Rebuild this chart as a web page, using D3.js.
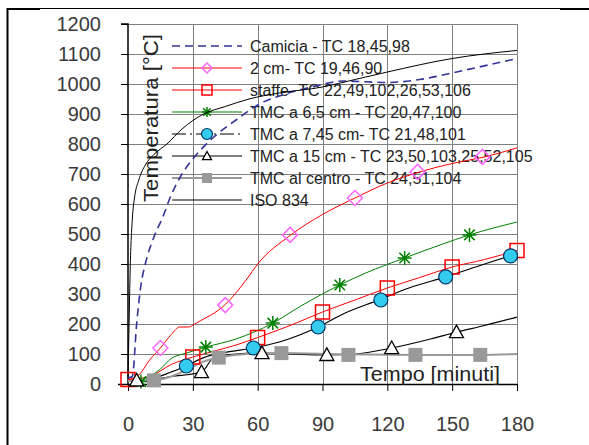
<!DOCTYPE html>
<html><head><meta charset="utf-8">
<script src="https://cdn.jsdelivr.net/npm/d3@7"></script>
<style>body{margin:0;background:#fff}svg{display:block}text{font-family:"Liberation Sans",Arial,sans-serif}</style>
</head><body>
<svg id="c" width="589" height="445"></svg>
<script>
// ---- data (time in minutes, temperature in °C) ----
const xTicks = [0, 30, 60, 90, 120, 150, 180];
const yTicks = [0, 100, 200, 300, 400, 500, 600, 700, 800, 900, 1000, 1100, 1200];

const camiciaT = [0, 2, 4, 6, 8, 12, 16, 20, 25, 30, 40, 50, 60, 70, 85, 100, 120, 135, 155, 180];
const camiciaV = [20, 25, 200, 330, 400, 490, 555, 630, 700, 750, 825, 880, 930, 960, 990, 1010, 1005, 1015, 1045, 1085];

const cm2T = [0, 5, 10, 15, 20, 24, 28, 32, 45, 55, 60, 75, 90, 105, 120, 135, 150, 165, 180];
const cm2V = [15, 30, 80, 120, 165, 190, 190, 205, 265, 350, 400, 495, 565, 620, 670, 707, 735, 757, 787];
const cm2MarkT = [15, 45, 75, 105, 134, 164];
const cm2MarkV = [120, 263, 497, 620, 707, 757];

const staffeT = [0, 10, 20, 30, 40, 50, 60, 75, 90, 105, 120, 135, 150, 165, 180];
const staffeV = [15, 25, 65, 90, 110, 130, 155, 195, 240, 280, 320, 355, 390, 415, 445];
const staffeMarkT = [0, 30, 60, 90, 120, 150, 180];
const staffeMarkV = [15, 90, 155, 240, 320, 390, 445];

const tmc55T = [0, 4, 10, 15, 20, 27, 36, 50, 67, 80, 98, 110, 128, 145, 158, 180];
const tmc55V = [10, 8, 25, 50, 85, 103, 123, 150, 203, 260, 330, 370, 420, 465, 497, 540];
const tmc55MarkT = [6, 36, 67, 98, 128, 158];
const tmc55MarkV = [8, 123, 203, 330, 420, 497];

const tmc745T = [0, 4, 10, 20, 27, 35, 45, 58, 70, 88, 100, 116, 130, 147, 165, 180];
const tmc745V = [10, 8, 15, 40, 60, 88, 105, 120, 140, 190, 235, 280, 320, 357, 400, 435];
const tmc745MarkT = [27, 58, 88, 117, 147, 177];
const tmc745MarkV = [60, 120, 190, 280, 357, 427];

const tmc15T = [0, 5, 20, 34, 40, 50, 62, 75, 92, 105, 122, 140, 152, 165, 180];
const tmc15V = [10, 10, 25, 40, 90, 100, 103, 100, 97, 100, 120, 150, 173, 195, 223];
const tmc15MarkT = [4, 34, 62, 92, 122, 152];
const tmc15MarkV = [12, 40, 103, 97, 120, 173];

const centroT = [0, 4, 12, 20, 28, 35, 42, 55, 71, 100, 133, 163, 180];
const centroV = [10, 10, 12, 25, 50, 75, 88, 100, 103, 99, 97, 97, 100];
const centroMarkT = [12, 42, 71, 102, 133, 163];
const centroMarkV = [12, 88, 103, 97, 97, 97];

const isoT = [0, 0.5, 1, 2, 3, 5, 8, 12, 18, 25, 35, 45, 56, 70, 90, 105, 120, 150, 180];
const isoV = [20, 200, 380, 550, 620, 680, 730, 765, 800, 850, 900, 925, 950, 970, 990, 1015, 1040, 1085, 1112];

const legendLabels = [
  "Camicia -  TC 18,45,98",
  "2 cm-  TC 19,46,90",
  "staffe- TC 22,49,102,26,53,106",
  "TMC a 6,5 cm - TC 20,47,100",
  "TMC a 7,45 cm- TC 21,48,101",
  "TMC a 15 cm - TC 23,50,103,25,52,105",
  "TMC al centro - TC 24,51,104",
  "ISO 834"
];

// ---- drawing ----
const svg = d3.select("#c");
const x = d3.scaleLinear().domain([0, 180]).range([128, 517]);
const y = d3.scaleLinear().domain([0, 1200]).range([384, 24]);

// frame
svg.append("line").attr("x1", 7).attr("x2", 589).attr("y1", 8.5).attr("y2", 8.5).attr("stroke", "#000").attr("stroke-width", 1.2);
svg.append("line").attr("x1", 7).attr("x2", 40).attr("y1", 9).attr("y2", 9).attr("stroke", "#000").attr("stroke-width", 2);
svg.append("line").attr("x1", 560).attr("x2", 589).attr("y1", 9).attr("y2", 9).attr("stroke", "#000").attr("stroke-width", 2);
svg.append("line").attr("x1", 7.5).attr("x2", 7.5).attr("y1", 8).attr("y2", 445).attr("stroke", "#000").attr("stroke-width", 2);

// grid
const g = svg.append("g");
g.selectAll(".hg").data(yTicks.filter(d => d > 0)).join("line")
  .attr("x1", x(0)).attr("x2", x(180)).attr("y1", d => Math.round(y(d)) + 0.5).attr("y2", d => Math.round(y(d)) + 0.5)
  .attr("stroke", "#808080").attr("stroke-width", 1);
g.selectAll(".vg").data(xTicks.filter(d => d > 0)).join("line")
  .attr("x1", d => Math.round(x(d)) + 0.5).attr("x2", d => Math.round(x(d)) + 0.5).attr("y1", y(1200)).attr("y2", y(0))
  .attr("stroke", "#808080").attr("stroke-width", 1);

// axes
const yAxis = svg.append("g").attr("transform", `translate(${x(0)},0)`)
  .call(d3.axisLeft(y).tickValues(yTicks).tickFormat(d3.format("d")).tickSize(7).tickPadding(20));
const xAxis = svg.append("g").attr("transform", `translate(0,${y(0)})`)
  .call(d3.axisBottom(x).tickValues(xTicks).tickFormat(d3.format("d")).tickSize(7).tickPadding(26));
[yAxis, xAxis].forEach(a => {
  a.select(".domain").attr("stroke", "#000").attr("stroke-width", 1.5);
  a.selectAll(".tick line").attr("stroke", "#000");
  a.selectAll(".tick text").attr("font-size", 20).attr("fill", "#3a3a3a").attr("font-family", "'Liberation Sans',Arial,sans-serif");
});
xAxis.select(".domain").attr("d", `M${x(0) - 10},0.5H${x(180)}`);
yAxis.select(".domain").attr("d", `M-7,${y(1200)}H0V${y(0)}`);

// axis titles
svg.append("text").attr("transform", `translate(158,202) rotate(-90)`)
  .attr("font-size", 21).attr("fill", "#222").attr("textLength", 168).attr("lengthAdjust", "spacingAndGlyphs")
  .text("Temperatura [°C]");
svg.append("text").attr("x", 360).attr("y", 381)
  .attr("font-size", 21).attr("fill", "#222").attr("textLength", 140).attr("lengthAdjust", "spacingAndGlyphs")
  .text("Tempo [minuti]");

// marker shapes
function marker(sel, type, size) {
  const s = size;
  if (type === "diamond") sel.append("path").attr("d", `M0,${-s}L${s},0L0,${s}L${-s},0Z`).attr("fill", "none").attr("stroke", "#FF66FF").attr("stroke-width", 1.5);
  if (type === "square") sel.append("rect").attr("x", -s).attr("y", -s).attr("width", 2 * s).attr("height", 2 * s).attr("fill", "none").attr("stroke", "#FF0000").attr("stroke-width", 1.5);
  if (type === "star") {
    const a = s * 0.75;
    sel.append("path").attr("d", `M${-s},0H${s}M0,${-s}V${s}M${-a},${-a}L${a},${a}M${-a},${a}L${a},${-a}`).attr("stroke", "#008000").attr("stroke-width", 1.5);
  }
  if (type === "circle") sel.append("circle").attr("r", s).attr("fill", "#33CCEE").attr("stroke", "#003366").attr("stroke-width", 1.2);
  if (type === "triangle") sel.append("path").attr("d", `M0,${-s}L${s},${s * 0.8}L${-s},${s * 0.8}Z`).attr("fill", "#fff").attr("stroke", "#000").attr("stroke-width", 1.3);
  if (type === "gsquare") sel.append("rect").attr("x", -s).attr("y", -s).attr("width", 2 * s).attr("height", 2 * s).attr("fill", "#999999");
}

const series = [
  {t: camiciaT, v: camiciaV, color: "#333399", w: 1.6, dash: "8,5"},
  {t: cm2T, v: cm2V, mt: cm2MarkT, mv: cm2MarkV, color: "#FF0000", w: 1, m: "diamond"},
  {t: staffeT, v: staffeV, mt: staffeMarkT, mv: staffeMarkV, color: "#FF0000", w: 1, m: "square"},
  {t: tmc55T, v: tmc55V, mt: tmc55MarkT, mv: tmc55MarkV, color: "#008000", w: 1, m: "star"},
  {t: tmc745T, v: tmc745V, mt: tmc745MarkT, mv: tmc745MarkV, color: "#000000", w: 1.2, legDash: "14,4,2,4", m: "circle"},
  {t: tmc15T, v: tmc15V, mt: tmc15MarkT, mv: tmc15MarkV, color: "#000000", w: 1.2, m: "triangle"},
  {t: centroT, v: centroV, mt: centroMarkT, mv: centroMarkV, color: "#999999", w: 2, m: "gsquare"},
  {t: isoT, v: isoV, color: "#000000", w: 1}
];
const plotSizes = {diamond: 7.5, square: 7, star: 7, circle: 7, triangle: 7, gsquare: 7};
const legSizes = {diamond: 5, square: 5, star: 5, circle: 5.5, triangle: 4.5, gsquare: 5};

const line = d3.line().curve(d3.curveMonotoneX);

// legend (drawn under curves so plot lines cross text as in reference)
const legY0 = 46, legDy = 22;
series.forEach((s, i) => {
  const ly = legY0 + i * legDy;
  const lg = svg.append("g");
  lg.append("line").attr("x1", 172).attr("x2", 242).attr("y1", ly).attr("y2", ly)
    .attr("stroke", s.color).attr("stroke-width", s.w).attr("stroke-dasharray", s.legDash || s.dash || null);
  if (s.m) marker(lg.append("g").attr("transform", `translate(207,${ly})`), s.m, legSizes[s.m]);
  lg.append("text").attr("x", 250).attr("y", ly + 6).attr("font-size", 16).attr("fill", "#222").text(legendLabels[i]);
});

// curves
series.forEach(s => {
  const pts = s.t.map((t, i) => [x(t), y(s.v[i])]);
  svg.append("path").attr("d", line(pts)).attr("fill", "none")
    .attr("stroke", s.color).attr("stroke-width", s.w).attr("stroke-dasharray", s.dash || null);
});
series.forEach(s => {
  if (!s.m) return;
  s.mt.forEach((t, i) => {
    marker(svg.append("g").attr("transform", `translate(${x(t)},${y(s.mv[i])})`), s.m, plotSizes[s.m]);
  });
});
</script>
</body></html>
